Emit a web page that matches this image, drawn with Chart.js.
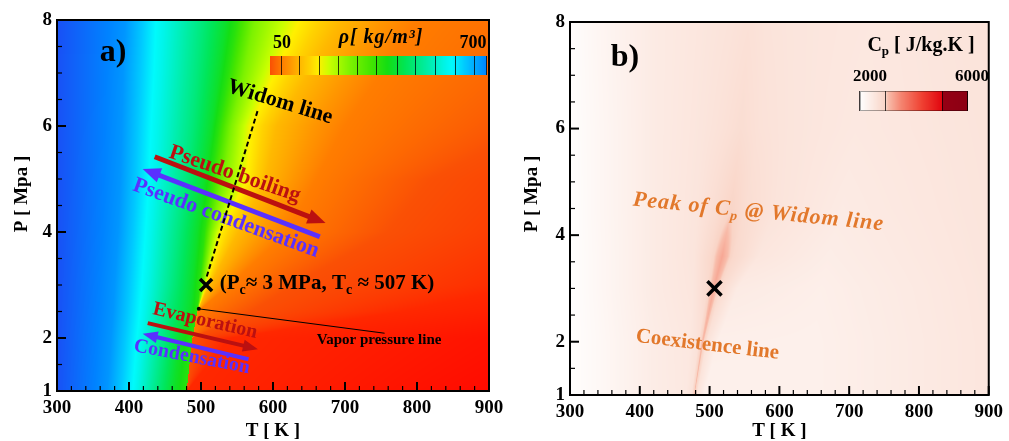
<!DOCTYPE html>
<html>
<head>
<meta charset="utf-8">
<script src="https://cdn.jsdelivr.net/npm/chart.js@4.4.1/dist/chart.umd.min.js"></script>
<style>
  body { margin: 0; background: #fff; width: 1009px; height: 441px; overflow: hidden; position: relative; }
  canvas { position: absolute; top: 0; }
  #chartA { left: 0; }
  #chartB { left: 500px; }
</style>
</head>
<body>
<canvas id="chartA" width="520" height="441"></canvas>
<canvas id="chartB" width="509" height="441"></canvas>
<script>
// ---- data ----
const tempTickLabels = [300, 400, 500, 600, 700, 800, 900];
const pressureTickLabels = [1, 2, 4, 6, 8];

// panel a: density levels (kg/m3) and the temperature where each level is reached, per pressure row
const densityLevels = [750, 683, 590, 485, 420, 380, 290, 195, 140, 85, 50, 28, 5];
const densityPressures = [1, 2, 2.5, 3, 4, 5, 6, 7, 8];
const densityTemps = [
  [300, 370, 407, 440, 462, 480, 480, 480, 480, 480, 480, 480, 950],
  [300, 375, 413, 450, 470, 488, 488, 488, 488, 488, 488, 540, 1100],
  [300, 378, 417, 455, 485, 495, 495, 495, 495, 495, 570, 780, 1300],
  [300, 380, 420, 462, 488, 498, 503, 507, 512, 540, 630, 950, 1500],
  [300, 385, 425, 470, 495, 505, 514, 527, 552, 620, 760, 1100, 1600],
  [300, 388, 430, 480, 505, 515, 532, 564, 590, 660, 820, 1200, 1700],
  [300, 390, 433, 488, 515, 525, 542, 570, 605, 700, 960, 1300, 1800],
  [300, 392, 437, 495, 525, 538, 560, 603, 650, 750, 1080, 1450, 1950],
  [300, 395, 440, 502, 535, 550, 575, 637, 694, 800, 1200, 1600, 2100]
];
const densityLegendRange = [50, 700];
const densityLegendLines = [85, 140, 200, 258, 313, 372, 432, 487, 546, 606, 665, 700];

// panel b: Cp (J/kg.K) along T, per pressure row
const cpPressures = [1, 2, 3, 3.6, 4.5, 6, 8];
const cpTemps = [
  [300, 340, 420, 466, 474, 478, 482, 492, 650, 900],
  [300, 340, 420, 472, 484, 490, 496, 512, 650, 900],
  [300, 340, 420, 476, 496, 506, 516, 540, 660, 900],
  [300, 340, 420, 478, 502, 518, 534, 570, 670, 900],
  [300, 340, 420, 482, 510, 531, 552, 595, 690, 900],
  [300, 340, 420, 488, 518, 545, 572, 615, 710, 900],
  [300, 340, 420, 495, 528, 556, 584, 625, 730, 900]
];
const cpValues = [
  [2030, 2150, 2420, 2500, 2620, 3050, 2600, 2330, 2330, 2560],
  [2030, 2150, 2420, 2520, 2650, 3100, 2620, 2350, 2330, 2560],
  [2030, 2170, 2450, 2560, 2800, 3200, 2800, 2450, 2360, 2570],
  [2030, 2170, 2450, 2580, 2850, 3230, 2850, 2550, 2400, 2580],
  [2030, 2180, 2450, 2580, 2750, 2920, 2750, 2600, 2450, 2590],
  [2040, 2180, 2450, 2570, 2650, 2740, 2650, 2580, 2500, 2600],
  [2050, 2200, 2450, 2560, 2610, 2670, 2610, 2570, 2520, 2620]
];
const cpLegendRange = [2000, 6000];
const cpLegendLines = [2000, 2960, 5070, 6000];

const criticalPoint = [{ x: 507, y: 3 }];
const widomLine = [{ x: 508, y: 3.16 }, { x: 579.6, y: 6.33 }];
const vaporLeader = [{ x: 497, y: 2.55 }, { x: 755, y: 2.09 }];

// ---- colour maps ----
const densityColors = [
  [0, 255, 0, 0], [28, 255, 40, 0], [50, 250, 80, 5], [85, 255, 125, 0], [110, 255, 150, 0],
  [140, 255, 185, 0], [169, 255, 210, 0], [195, 255, 240, 0], [228, 200, 255, 0], [290, 125, 242, 0],
  [350, 70, 230, 0], [402, 20, 222, 20], [458, 0, 230, 90], [516, 0, 237, 160], [576, 0, 245, 235],
  [595, 0, 250, 252], [635, 0, 200, 255], [683, 0, 150, 255], [700, 0, 130, 255], [750, 25, 80, 245]
];
const cpColors = [
  [2000, 255, 255, 255], [2950, 249, 212, 198], [3050, 248, 188, 170], [3500, 245, 135, 115],
  [4300, 240, 65, 50], [5050, 225, 5, 15], [5060, 150, 0, 20], [6000, 140, 0, 20]
];

const RED = '#bb1010';
const BLUE = '#5a30ff';
const ORANGE = '#e2782b';
const SERIF = '"Liberation Serif", "Times New Roman", serif';

function colorAt(stops, v) {
  if (v <= stops[0][0]) return stops[0].slice(1);
  for (let i = 1; i < stops.length; i++) {
    if (v <= stops[i][0]) {
      const a = stops[i - 1], b = stops[i];
      const f = (v - a[0]) / (b[0] - a[0]);
      return [a[1] + f * (b[1] - a[1]), a[2] + f * (b[2] - a[2]), a[3] + f * (b[3] - a[3])];
    }
  }
  return stops[stops.length - 1].slice(1);
}

function rowAt(pressures, temps, values, p) {
  let i = 0;
  while (i < pressures.length - 2 && p > pressures[i + 1]) i++;
  const f = Math.max(0, Math.min(1, (p - pressures[i]) / (pressures[i + 1] - pressures[i])));
  return {
    t: temps[i].map((v, k) => v + f * (temps[i + 1][k] - v)),
    v: values[i].map((v, k) => v + f * (values[i + 1][k] - v))
  };
}

// paints the contour field into the chart area, pixel by pixel, via the chart scales
function fieldPlugin(pressures, temps, values, colors) {
  return {
    id: 'field',
    beforeDatasetsDraw(chart) {
      const { ctx, chartArea: a, scales: { x, y } } = chart;
      const x0 = Math.round(a.left), y0 = Math.round(a.top);
      const w = Math.round(a.right) - x0, h = Math.round(a.bottom) - y0;
      const img = ctx.createImageData(w, h);
      const ts = [];
      for (let i = 0; i < w; i++) ts.push(x.getValueForPixel(x0 + i + 0.5));
      for (let j = 0; j < h; j++) {
        const row = rowAt(pressures, temps, values, y.getValueForPixel(y0 + j + 0.5));
        let k = 0;
        for (let i = 0; i < w; i++) {
          const T = ts[i];
          while (k < row.t.length - 2 && T >= row.t[k + 1]) k++;
          const span = row.t[k + 1] - row.t[k];
          const f = span > 0 ? Math.max(0, Math.min(1, (T - row.t[k]) / span)) : 1;
          const c = colorAt(colors, row.v[k] + f * (row.v[k + 1] - row.v[k]));
          const o = (j * w + i) * 4;
          img.data[o] = c[0]; img.data[o + 1] = c[1]; img.data[o + 2] = c[2]; img.data[o + 3] = 255;
        }
      }
      ctx.putImageData(img, x0, y0);
    }
  };
}

function drawLabel(ctx, o) {
  const parts = typeof o.text === 'string' ? [[o.text, false]] : o.text;
  const style = o.style || 'bold';
  const main = `${style} ${o.size}px ${SERIF}`;
  const sub = `${style} ${Math.round(o.size * 0.65)}px ${SERIF}`;
  ctx.save();
  ctx.translate(o.x, o.y);
  ctx.rotate((o.angle || 0) * Math.PI / 180);
  ctx.letterSpacing = (o.spacing || 0) + 'px';
  ctx.fillStyle = o.color || '#000';
  ctx.textBaseline = 'middle';
  ctx.textAlign = 'left';
  let total = 0;
  const widths = parts.map(([t, s]) => {
    ctx.font = s ? sub : main;
    const wd = ctx.measureText(t).width;
    total += wd;
    return wd;
  });
  let cx = o.align === 'left' ? 0 : -total / 2;
  parts.forEach(([t, s], i) => {
    ctx.font = s ? sub : main;
    ctx.fillText(t, cx, s ? o.size * 0.3 : 0);
    cx += widths[i];
  });
  ctx.restore();
}

function drawArrow(ctx, x0, y0, x1, y1, color, width, headLen, headW) {
  const ang = Math.atan2(y1 - y0, x1 - x0);
  const len = Math.hypot(x1 - x0, y1 - y0);
  ctx.save();
  ctx.translate(x0, y0);
  ctx.rotate(ang);
  ctx.fillStyle = color;
  ctx.fillRect(0, -width / 2, len - headLen + 1, width);
  ctx.beginPath();
  ctx.moveTo(len, 0);
  ctx.lineTo(len - headLen, -headW / 2);
  ctx.lineTo(len - headLen, headW / 2);
  ctx.closePath();
  ctx.fill();
  ctx.restore();
}

function drawColorBar(ctx, x0, y0, w, h, range, colors, lines) {
  for (let i = 0; i < w; i++) {
    const c = colorAt(colors, range[0] + (i + 0.5) / w * (range[1] - range[0]));
    ctx.fillStyle = `rgb(${c[0] | 0},${c[1] | 0},${c[2] | 0})`;
    ctx.fillRect(x0 + i, y0, 1, h);
  }
  ctx.strokeStyle = 'rgba(0,0,0,0.75)';
  ctx.lineWidth = 1;
  lines.forEach(v => {
    const px = Math.round(x0 + (v - range[0]) / (range[1] - range[0]) * w) - 0.5;
    ctx.beginPath(); ctx.moveTo(px, y0); ctx.lineTo(px, y0 + h); ctx.stroke();
  });
}

// ticks point inward on bottom and left axes, plus the closed frame
const frameTicks = {
  id: 'frameTicks',
  afterDraw(chart) {
    const { ctx, chartArea: a, scales: { x, y } } = chart;
    ctx.save();
    ctx.strokeStyle = '#000';
    x.ticks.forEach(t => {
      const px = x.getPixelForValue(t.value);
      const major = t.label !== '';
      ctx.lineWidth = major ? 2 : 1.2;
      ctx.beginPath(); ctx.moveTo(px, a.bottom); ctx.lineTo(px, a.bottom - (major ? 9 : 5)); ctx.stroke();
    });
    y.ticks.forEach(t => {
      const py = y.getPixelForValue(t.value);
      const major = t.label !== '';
      ctx.lineWidth = major ? 2 : 1.2;
      ctx.beginPath(); ctx.moveTo(a.left, py); ctx.lineTo(a.left + (major ? 9 : 5), py); ctx.stroke();
    });
    ctx.lineWidth = 2;
    ctx.strokeRect(a.left, a.top, a.right - a.left, a.bottom - a.top);
    drawLabel(ctx, { text: 'P [ Mpa ]', x: chart.options.yTitleX, y: 194, angle: -90, size: 19 });
    ctx.restore();
  }
};

const toPx = (chart, t, p) => [chart.scales.x.getPixelForValue(t), chart.scales.y.getPixelForValue(p)];

const decorA = {
  id: 'decorA',
  beforeDatasetsDraw(chart) {
    const ctx = chart.ctx;
    const arrows = [
      { from: [435.7, 5.42], to: [673, 4.17], color: RED, w: 5, head: [18, 15] },
      { from: [665, 3.91], to: [419, 5.19], color: BLUE, w: 5, head: [18, 15] },
      { from: [426, 2.28], to: [579, 1.79], color: RED, w: 4, head: [15, 12] },
      { from: [566, 1.60], to: [419, 2.08], color: BLUE, w: 4, head: [15, 12] }
    ];
    arrows.forEach(a => {
      const [x0, y0] = toPx(chart, ...a.from);
      const [x1, y1] = toPx(chart, ...a.to);
      drawArrow(ctx, x0, y0, x1, y1, a.color, a.w, a.head[0], a.head[1]);
    });
    const labels = [
      { text: 'Widom line', at: [609.7, 6.45], angle: 17, size: 22 },
      { text: 'Pseudo boiling', at: [547, 5.09], angle: 19, size: 22, color: RED },
      { text: 'Pseudo condensation', at: [534.7, 4.26], angle: 20, size: 22, color: BLUE },
      { text: 'Evaporation', at: [505.6, 2.32], angle: 13, size: 20, color: RED },
      { text: 'Condensation', at: [487.4, 1.64], angle: 11, size: 20, color: BLUE },
      { text: [['(P', false], ['c', true], ['≈ 3 MPa, T', false], ['c', true], [' ≈ 507 K)', false]],
        at: [526, 3.02], size: 21, align: 'left' },
      { text: 'Vapor pressure line', at: [660.7, 1.96], size: 15, align: 'left' }
    ];
    labels.forEach(l => {
      const [x, y] = toPx(chart, ...l.at);
      drawLabel(ctx, { ...l, x, y });
    });
    drawLabel(ctx, { text: 'a)', x: 113, y: 53, size: 32 });
    drawColorBar(ctx, 270, 56, 217, 19, densityLegendRange, densityColors, densityLegendLines);
    drawLabel(ctx, { text: String(densityLegendRange[0]), x: 282, y: 43, size: 18 });
    drawLabel(ctx, { text: String(densityLegendRange[1]), x: 473, y: 43, size: 18 });
    drawLabel(ctx, { text: 'ρ[ kg/m³]', x: 381, y: 38, size: 20, style: 'italic bold', spacing: 1 });
  }
};

const decorB = {
  id: 'decorB',
  beforeDatasetsDraw(chart) {
    const ctx = chart.ctx;
    let [x, y] = toPx(chart, 570.1, 4.43);
    drawLabel(ctx, { text: [['Peak of C', false], ['p', true], [' @ Widom line', false]],
      x, y, angle: 5.6, size: 22, style: 'italic bold', spacing: 1, color: ORANGE });
    [x, y] = toPx(chart, 496.9, 1.94);
    drawLabel(ctx, { text: 'Coexistence line', x, y, angle: 6.8, size: 21, color: ORANGE });
    drawLabel(ctx, { text: 'b)', x: 125, y: 58, size: 32 });
    drawColorBar(ctx, 360, 91, 108, 20, cpLegendRange, cpColors, cpLegendLines);
    ctx.strokeStyle = 'rgba(0,0,0,0.35)';
    ctx.strokeRect(360.5, 91.5, 107, 19);
    drawLabel(ctx, { text: [['C', false], ['p', true], [' [ J/kg.K ]', false]], x: 421, y: 46, size: 20 });
    drawLabel(ctx, { text: String(cpLegendRange[0]), x: 370, y: 77, size: 17 });
    drawLabel(ctx, { text: String(cpLegendRange[1]), x: 472, y: 77, size: 17 });
  }
};

const tickFont = { family: SERIF, size: 19, weight: 'bold' };

function buildChart(id, opt) {
  return new Chart(document.getElementById(id), {
    type: 'scatter',
    data: { datasets: opt.datasets },
    options: {
      responsive: false,
      animation: false,
      devicePixelRatio: 1,
      events: [],
      yTitleX: opt.yTitleX,
      layout: { autoPadding: false, padding: opt.padding },
      plugins: { legend: { display: false }, tooltip: { enabled: false } },
      scales: {
        x: {
          type: 'linear', min: 300, max: 900,
          afterFit: s => { s.height = opt.xHeight; },
          grid: { display: false, drawTicks: false },
          border: { display: false },
          ticks: {
            stepSize: 20, autoSkip: false, maxRotation: 0, padding: 6, color: '#000', font: tickFont,
            callback: v => tempTickLabels.includes(v) ? String(v) : ''
          },
          title: { display: true, text: 'T [ K ]', color: '#000', padding: { top: 0, bottom: 0 },
            font: { ...tickFont, lineHeight: 1 } }
        },
        y: {
          type: 'linear', min: 1, max: 8,
          afterFit: s => { s.width = opt.yWidth; },
          grid: { display: false, drawTicks: false },
          border: { display: false },
          ticks: {
            stepSize: 0.5, autoSkip: false, padding: 5, color: '#000', font: tickFont,
            callback: v => pressureTickLabels.includes(v) ? String(v) : ''
          }
        }
      }
    },
    plugins: [opt.field, opt.decor, frameTicks]
  });
}

const crossSet = (r) => ({
  data: criticalPoint, pointStyle: 'crossRot', pointRadius: r,
  borderColor: '#000', backgroundColor: '#000', pointBorderWidth: 3.5, borderWidth: 3.5
});

buildChart('chartA', {
  padding: { left: 0, right: 31, top: 20, bottom: 0 },
  xHeight: 50, yWidth: 57, yTitleX: 22,
  field: fieldPlugin(densityPressures, densityTemps, densityTemps.map(() => densityLevels), densityColors),
  decor: decorA,
  datasets: [
    { data: widomLine, showLine: true, borderColor: '#000', borderWidth: 2, borderDash: [5, 3], pointRadius: 0 },
    { data: vaporLeader, showLine: true, borderColor: '#000', borderWidth: 1, pointRadius: [2, 0],
      pointBackgroundColor: '#000', pointBorderWidth: 0 },
    crossSet(8.5)
  ]
});

buildChart('chartB', {
  padding: { left: 0, right: 17, top: 22, bottom: 0 },
  xHeight: 46, yWidth: 70, yTitleX: 32,
  field: fieldPlugin(cpPressures, cpTemps, cpValues, cpColors),
  decor: decorB,
  datasets: [crossSet(10)]
});
</script>
</body>
</html>
